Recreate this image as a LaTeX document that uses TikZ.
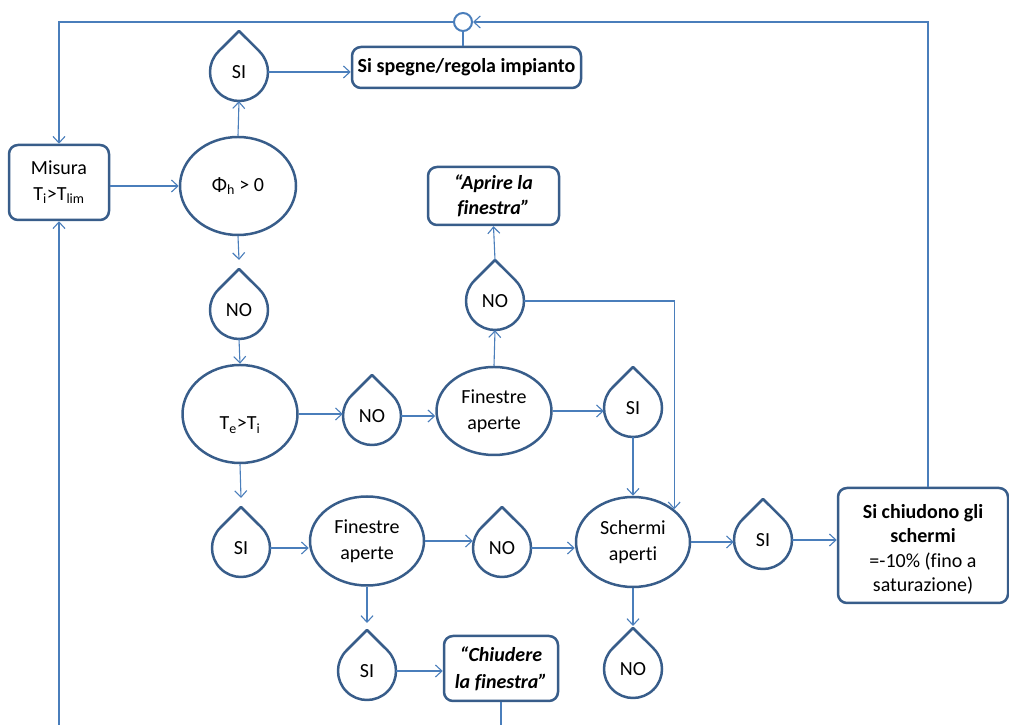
\documentclass[tikz,border=0pt]{standalone}
\usepackage{fontspec}
\setmainfont{Carlito}[Ligatures=NoCommon,RawFeature={-liga;-calt}]
\usetikzlibrary{arrows.meta,shapes.geometric,calc}
\definecolor{conn}{HTML}{4A7EBB}
\definecolor{bord}{HTML}{385D8A}
\begin{document}
\begin{tikzpicture}[x=1pt,y=1pt,
  font=\fontsize{20}{26}\selectfont,
  link/.style={draw=conn, line width=1.1pt},
  arr/.style={link, -{Straight Barb[length=6.5pt,width=12pt,line width=1.1pt]}},
  rbox/.style={draw=bord, line width=2.5pt, rounded corners=9pt, fill=white, align=center, inner sep=0pt},
  oval/.style={ellipse, draw=bord, line width=2.5pt, fill=white, align=center, inner sep=0pt},
  drop/.style={circle, minimum size=58pt, inner sep=0pt},
  dropline/.style={draw=bord, line width=2.5pt, line join=round},
]
\useasboundingbox (0,0) rectangle (1009,725);
\coordinate (bot) at (0,0);

% boxes
\node[rbox, minimum width=100, minimum height=75] (misura) at (59,542.5) {Misura\\T\textsubscript{i}>T\textsubscript{lim}};
\node[rbox, minimum width=229, minimum height=41, font=\fontsize{20}{26}\selectfont\bfseries] (spegne) at (466.5,657.5) {Si spegne/regola impianto};
\node[rbox, minimum width=131, minimum height=58, font=\fontsize{20}{25}\selectfont\bfseries\itshape] (aprire) at (493.5,529) {“Aprire la\\finestra”};
\node[rbox, minimum width=114, minimum height=65, font=\fontsize{20}{27}\selectfont\bfseries\itshape] (chiudere) at (501,56.5) {“Chiudere\\la finestra”};
\node[rbox, minimum width=170, minimum height=115, font=\fontsize{20}{24.5}\selectfont] (chiudono) at (923,179.5) {\rule{0pt}{22pt}\textbf{Si chiudono gli}\\\textbf{schermi}\\=-10\% (fino a\\saturazione)};

% ellipses
\node[oval, minimum width=116, minimum height=98] (phi) at (238,539) {Φ\textsubscript{h} > 0};
\node[oval, minimum width=115, minimum height=98] (te) at (240,311) {\raisebox{-16pt}[0pt][0pt]{T\textsubscript{e}>T\textsubscript{i}}};
\node[oval, minimum width=115, minimum height=88] (fin1) at (494,314) {Finestre\\aperte};
\node[oval, minimum width=114, minimum height=89] (fin2) at (367,184) {Finestre\\aperte};
\node[oval, minimum width=114, minimum height=90] (schermi) at (633,183) {Schermi\\aperti};

% junction
\node[circle, draw=conn, line width=2pt, fill=white, minimum size=18, inner sep=0pt] (junc) at (463,703) {};

% drops
\node[drop] (siTop) at (239,653) {SI};
\node[drop] (noA) at (239,415) {NO};
\node[drop] (noB) at (372,309) {NO};
\node[drop] (noC) at (495,424) {NO};
\node[drop] (siB) at (633,317) {SI};
\node[drop] (siC) at (241,177) {SI};
\node[drop] (noD) at (502,177) {NO};
\node[drop] (siD) at (367,54) {SI};
\node[drop] (siE) at (763,185) {SI};
\node[drop] (noE) at (633,56) {NO};
\foreach \n in {siTop,noA,noB,noC,siB,siC,noD,siD,siE,noE}{
  \draw[dropline] ($(\n.center)+(0,41)$) -- ($(\n.center)+(135:29)$)
    arc[start angle=135,end angle=405,radius=29] -- cycle;
}

% connectors
\draw[arr] (misura.east |- phi.west) -- (phi.west);
\draw[arr] (phi.north) -- (siTop.south);
\draw[arr] (siTop.east) -- (siTop.east -| spegne.west);
\draw[link] (spegne.north -| junc.south) -- (junc.south);
\draw[arr] (junc.west) -| (misura.north);
\draw[arr] ([xshift=5pt]chiudono.north) |- (junc.east);
\draw[arr] (misura.south |- bot) -- (misura.south);
\draw[link] (chiudere.south) -- (chiudere.south |- bot);

\draw[arr] (phi.south) -- ($(noA.center)+(0,50)$);
\draw[arr] (noA.south) -- (te.north);
\draw[arr] (te.east) -- (te.east -| noB.west);
\draw[arr] (noB.east) -- (noB.east -| fin1.west);
\draw[arr] (fin1.north) -- (noC.south);
\draw[arr] ($(noC.center)+(0,41)$) -- (aprire.south);
\draw[arr] (noC.east) -| (schermi.north east);
\draw[arr] (fin1.east) -- (fin1.east -| siB.west);
\draw[arr] (siB.south) -- (schermi.north);

\draw[arr] (te.south) -- ($(siC.center)+(0,50)$);
\draw[arr] (siC.east) -- (siC.east -| fin2.west);
\draw[arr] (fin2.east) -- (fin2.east -| noD.west);
\draw[arr] (noD.east) -- (noD.east -| schermi.west);
\draw[arr] (fin2.south) -- ($(siD.center)+(0,48)$);
\draw[arr] (siD.east) -- (siD.east -| chiudere.west);
\draw[arr] (schermi.east) -- (schermi.east -| siE.west);
\draw[arr] (siE.east) -- (siE.east -| chiudono.west);
\draw[arr] (schermi.south) -- ($(noE.center)+(0,43)$);
\end{tikzpicture}
\end{document}
